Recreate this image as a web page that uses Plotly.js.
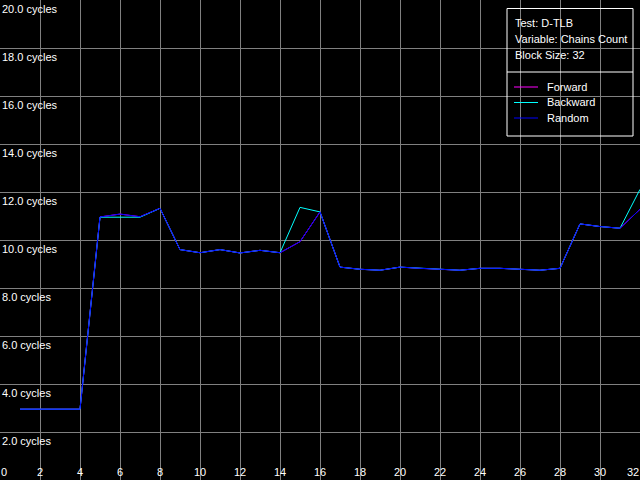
<!DOCTYPE html>
<html>
<head>
<meta charset="utf-8">
<script src="https://cdn.plot.ly/plotly-3.0.1.min.js"></script>
<style>html,body{margin:0;padding:0;background:#000;}#chart{width:640px;height:480px;}</style>
</head>
<body>
<div id="chart"></div>
<script>
// ---- data ----
const chainsCount = [1,2,3,4,5,6,7,8,9,10,11,12,13,14,15,16,17,18,19,20,21,22,23,24,25,26,27,28,29,30,31,32];
const forwardCycles = [2.95,2.95,2.95,2.95,10.96,11.08,10.97,11.32,9.6,9.47,9.6,9.46,9.57,9.47,9.93,11.17,8.87,8.78,8.74,8.87,8.82,8.78,8.74,8.82,8.82,8.78,8.74,8.82,10.67,10.56,10.49,11.28];
const backwardCycles = [2.95,2.95,2.95,2.95,10.95,10.95,10.95,11.32,9.6,9.47,9.6,9.46,9.57,9.47,11.36,11.17,8.87,8.78,8.74,8.87,8.82,8.78,8.74,8.82,8.82,8.78,8.74,8.82,10.67,10.56,10.49,12.11];
const randomCycles = [2.95,2.95,2.95,2.95,10.96,11.08,10.97,11.32,9.6,9.47,9.6,9.46,9.57,9.47,9.93,11.17,8.87,8.78,8.74,8.87,8.82,8.78,8.74,8.82,8.82,8.78,8.74,8.82,10.67,10.56,10.49,11.28];
const seriesNames = ["Forward","Backward","Random"];
const seriesColors = ["#ff00ff","#00ffff","#0000ff"];
const xTickVals = [2,4,6,8,10,12,14,16,18,20,22,24,26,28,30];
const xEndTicks = [0,32];
const yTickVals = [2,4,6,8,10,12,14,16,18,20];
const yTickText = yTickVals.map(v => v.toFixed(1) + " cycles");
const headerLines = ["Test: D-TLB","Variable: Chains Count","Block Size: 32"];

const font = {family: "Liberation Sans, Arial, sans-serif", size: 11, color: "#ffffff"};
const W = 640, H = 480;
const px = x => x / W, py = y => 1 - y / H;

const ys = [forwardCycles, backwardCycles, randomCycles];
const traces = seriesNames.map((n, i) => ({
  x: chainsCount, y: ys[i], name: n, type: "scatter", mode: "lines",
  line: {color: seriesColors[i], width: 1}, showlegend: false, hoverinfo: "skip"
}));

const shapes = [
  {type: "rect", xref: "paper", yref: "paper", x0: px(507), x1: px(633), y0: py(8.5), y1: py(136),
   line: {color: "#ffffff", width: 1}, fillcolor: "rgba(0,0,0,0)"},
  {type: "line", xref: "paper", yref: "paper", x0: px(507), x1: px(633), y0: py(72), y1: py(72),
   line: {color: "#ffffff", width: 1}}
];
const annotations = [];
headerLines.forEach((t, i) => annotations.push({
  xref: "paper", yref: "paper", x: px(513), y: py(23 + 16 * i), text: t, showarrow: false,
  xanchor: "left", yanchor: "middle", font: font
}));
seriesNames.forEach((n, i) => {
  const yy = 87 + 15.5 * i;
  shapes.push({type: "line", xref: "paper", yref: "paper", x0: px(514), x1: px(538), y0: py(yy), y1: py(yy),
    line: {color: seriesColors[i], width: 1}});
  annotations.push({xref: "paper", yref: "paper", x: px(545), y: py(yy), text: n, showarrow: false,
    xanchor: "left", yanchor: "middle", font: font});
});
xEndTicks.forEach((v, i) => annotations.push({
  xref: "x", yref: "paper", x: v, y: py(472), text: String(v), showarrow: false,
  xanchor: i === 0 ? "left" : "right", yanchor: "middle", xshift: i === 0 ? -1 : 1, font: font
}));

const layout = {
  width: W, height: H,
  margin: {l: 0, r: 0, t: 0, b: 0, pad: 0},
  paper_bgcolor: "#000000", plot_bgcolor: "#000000",
  font: font, showlegend: false,
  xaxis: {range: [0, 32], tickmode: "array", tickvals: xTickVals, ticktext: xTickVals.map(String),
    showgrid: true, gridcolor: "#808080", gridwidth: 1, zeroline: false, showline: false,
    ticks: "", ticklabelposition: "inside", ticklabelstandoff: -1, tickfont: font, fixedrange: true},
  yaxis: {range: [0, 20], tickmode: "array", tickvals: yTickVals, ticktext: yTickText,
    showgrid: true, gridcolor: "#808080", gridwidth: 1, zeroline: false, showline: false,
    ticks: "", ticklabelposition: "inside", ticklabelstandoff: -1, ticklabelshift: 9,
    ticklabeloverflow: "allow", tickfont: font, fixedrange: true},
  shapes: shapes, annotations: annotations
};
Plotly.newPlot("chart", traces, layout, {staticPlot: true, displayModeBar: false});
</script>
</body>
</html>
